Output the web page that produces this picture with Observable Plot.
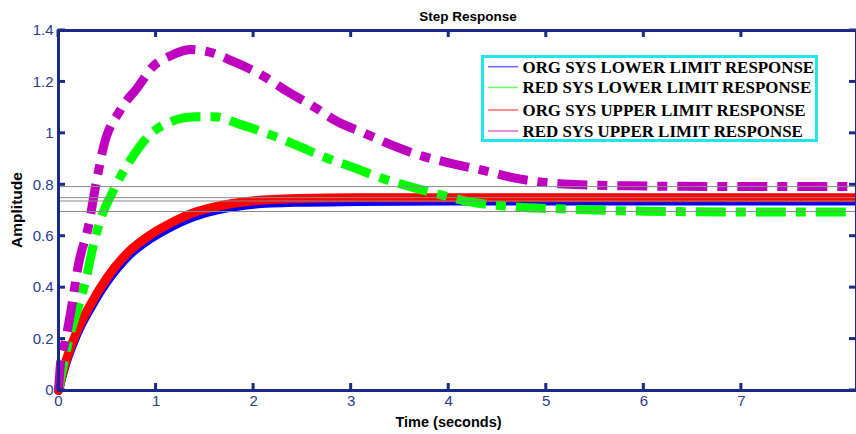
<!DOCTYPE html>
<html>
<head>
<meta charset="utf-8">
<script src="https://cdn.jsdelivr.net/npm/d3@7"></script>
<script src="https://cdn.jsdelivr.net/npm/@observablehq/plot@0.6"></script>
<style>
  html, body { margin: 0; padding: 0; background: #ffffff; }
  #wrap { position: relative; width: 856px; height: 434px; overflow: hidden; }
  #overlay { position: absolute; left: 0; top: 0; pointer-events: none; }
</style>
</head>
<body>
<div id="wrap"></div>
<script>
// ---- Data ----
const titleText = "Step Response";
const xLabelText = "Time (seconds)";
const yLabelText = "Amplitude";

const xTicks = [0, 1, 2, 3, 4, 5, 6, 7];
const xTickLabels = ["0", "1", "2", "3", "4", "5", "6", "7"];
const yTicks = [0, 0.2, 0.4, 0.6, 0.8, 1, 1.2, 1.4];
const yTickLabels = ["0", "0.2", "0.4", "0.6", "0.8", "1", "1.2", "1.4"];

const seriesNames = [
  "ORG SYS LOWER LIMIT RESPONSE",
  "RED SYS LOWER LIMIT RESPONSE",
  "ORG SYS UPPER LIMIT RESPONSE",
  "RED SYS UPPER LIMIT RESPONSE"
];

// ORG SYS LOWER LIMIT (blue)
const orgLowerT = [0, 0.07, 0.19, 0.33, 0.5, 0.72, 0.94, 1.12, 1.25, 1.39, 1.59, 1.8, 2.0, 2.45, 3.05, 4.0, 8.18];
const orgLowerV = [0, 0.098, 0.22, 0.322, 0.425, 0.525, 0.59, 0.63, 0.655, 0.677, 0.699, 0.714, 0.724, 0.732, 0.735, 0.737, 0.737];

// RED SYS LOWER LIMIT (green)
const redLowerT = [0, 0.04, 0.12, 0.2, 0.28, 0.36, 0.44, 0.54, 0.64, 0.77, 0.9, 1.0, 1.15, 1.28, 1.43, 1.59, 1.87, 2.17, 2.45, 2.74, 3.03, 3.3, 3.61, 3.92, 4.2, 4.67, 5.18, 6.04, 7.27, 8.18];
const redLowerV = [0, 0.08, 0.22, 0.32, 0.43, 0.57, 0.675, 0.76, 0.835, 0.915, 0.98, 1.015, 1.045, 1.06, 1.065, 1.065, 1.034, 0.995, 0.952, 0.905, 0.866, 0.827, 0.792, 0.761, 0.735, 0.714, 0.706, 0.697, 0.694, 0.694];

// ORG SYS UPPER LIMIT (red)
const orgUpperT = [0, 0.07, 0.19, 0.33, 0.5, 0.72, 0.94, 1.12, 1.25, 1.39, 1.59, 1.8, 2.0, 2.45, 3.05, 8.18];
const orgUpperV = [0, 0.105, 0.23, 0.335, 0.44, 0.54, 0.605, 0.645, 0.67, 0.692, 0.713, 0.728, 0.738, 0.747, 0.75, 0.75];

// RED SYS UPPER LIMIT (purple)
const redUpperT = [0, 0.021, 0.072, 0.123, 0.21, 0.308, 0.379, 0.462, 0.636, 0.81, 0.974, 1.149, 1.251, 1.354, 1.528, 1.795, 2.072, 2.349, 2.615, 2.862, 3.128, 3.405, 3.682, 4.0, 4.328, 4.667, 5.179, 5.836, 7.067, 8.18];
const redUpperV = [0, 0.105, 0.195, 0.3, 0.5, 0.64, 0.792, 0.948, 1.092, 1.178, 1.262, 1.302, 1.318, 1.326, 1.318, 1.279, 1.229, 1.162, 1.104, 1.045, 1.002, 0.956, 0.917, 0.885, 0.858, 0.827, 0.803, 0.796, 0.793, 0.793];

// Steady-state reference lines (thin grey)
const steadyValues = [0.793, 0.750, 0.737, 0.696];

// ---- Styles ----
const colors = ["#0000ff", "#00ff00", "#ff0000", "#bf00bf"];
const navy = "#1b2a84";
const tickText = "#2b3a8f";
const dashDot = "30,10,10,10";

const W = 856, H = 434, ML = 58, MR = 0, MT = 30, MB = 44;
const tickLen = 7;

const rows = (T, V) => T.map((t, i) => ({t, v: V[i]}));
const blue = rows(orgLowerT, orgLowerV);
const green = rows(redLowerT, redLowerV);
const red = rows(orgUpperT, orgUpperV);
const purple = rows(redUpperT, redUpperV);

const chart = Plot.plot({
  width: W,
  height: H,
  marginLeft: ML,
  marginRight: MR,
  marginTop: MT,
  marginBottom: MB,
  x: {domain: [0, 8.18], label: null},
  y: {domain: [0, 1.4], label: null},
  style: {fontFamily: "'Liberation Sans', Arial, sans-serif", fontSize: "15px", background: "#ffffff"},
  marks: [
    Plot.line(blue, {x: "t", y: "v", stroke: colors[0], strokeWidth: 9, curve: "monotone-x"}),
    Plot.line(red, {x: "t", y: "v", stroke: colors[2], strokeWidth: 9, curve: "monotone-x"}),
    Plot.line(green, {x: "t", y: "v", stroke: colors[1], strokeWidth: 9, curve: "monotone-x", strokeDasharray: dashDot, strokeLinecap: "butt"}),
    Plot.line(purple, {x: "t", y: "v", stroke: colors[3], strokeWidth: 9, curve: "monotone-x", strokeDasharray: dashDot, strokeLinecap: "butt"}),
    Plot.ruleY(steadyValues, {stroke: "#8a8a8a", strokeWidth: 1}),
    Plot.frame({stroke: navy, strokeWidth: 3}),
    Plot.axisX(xTicks, {anchor: "bottom", tickSize: 0, tickPadding: 5, fill: tickText, label: null, fontSize: 15,
      tickFormat: d => xTickLabels[xTicks.indexOf(d)]}),
    Plot.axisY(yTicks, {anchor: "left", tickSize: 0, tickPadding: 5, fill: tickText, label: null, fontSize: 15,
      tickFormat: d => yTickLabels[yTicks.indexOf(d)]})
  ]
});

const wrap = document.getElementById("wrap");
wrap.appendChild(chart);

// ---- Overlay: inward ticks (positions from Plot's own scales), titles, legend ----
const sx = chart.scale("x"), sy = chart.scale("y");
const ov = d3.select(wrap).append("svg")
  .attr("id", "overlay")
  .attr("width", W).attr("height", H);

const tg = ov.append("g").attr("stroke", navy).attr("stroke-width", 3);
const yBottom = H - MB, yTop = MT, xLeft = ML, xRight = W - MR;
xTicks.forEach(t => {
  const px = sx.apply(t);
  tg.append("line").attr("x1", px).attr("x2", px).attr("y1", yBottom - tickLen).attr("y2", yBottom);
  tg.append("line").attr("x1", px).attr("x2", px).attr("y1", yTop).attr("y2", yTop + tickLen);
});
yTicks.forEach(v => {
  const py = sy.apply(v);
  tg.append("line").attr("y1", py).attr("y2", py).attr("x1", xLeft).attr("x2", xLeft + tickLen);
  tg.append("line").attr("y1", py).attr("y2", py).attr("x1", xRight - tickLen).attr("x2", xRight);
});

ov.append("text")
  .attr("x", 468).attr("y", 20.5)
  .attr("text-anchor", "middle")
  .style("font-family", "'Liberation Sans', Arial, sans-serif")
  .style("font-weight", "bold").style("font-size", "13.5px")
  .attr("fill", "#000")
  .text(titleText);

ov.append("text")
  .attr("x", 448.5).attr("y", 426.5)
  .attr("text-anchor", "middle")
  .style("font-family", "'Liberation Sans', Arial, sans-serif")
  .style("font-weight", "bold").style("font-size", "14.5px")
  .attr("fill", "#000")
  .text(xLabelText);

ov.append("text")
  .attr("transform", "translate(21.5,210) rotate(-90)")
  .attr("text-anchor", "middle")
  .style("font-family", "'Liberation Sans', Arial, sans-serif")
  .style("font-weight", "bold").style("font-size", "15.5px")
  .attr("fill", "#000")
  .text(yLabelText);

// Legend box
const lg = ov.append("g").attr("transform", "translate(481,55)");
lg.append("rect")
  .attr("x", 1.5).attr("y", 1.5)
  .attr("width", 334).attr("height", 84)
  .attr("fill", "#ffffff")
  .attr("stroke", "#1fe6ee").attr("stroke-width", 3);

const rowCenters = [11.7, 32.5, 55, 76];
seriesNames.forEach((name, i) => {
  lg.append("line")
    .attr("x1", 7).attr("x2", 37)
    .attr("y1", rowCenters[i]).attr("y2", rowCenters[i])
    .attr("stroke", colors[i]).attr("stroke-width", 1.5).attr("stroke-opacity", 0.6);
  lg.append("text")
    .attr("x", 41.5).attr("y", rowCenters[i] + 5.8)
    .style("font-family", "'Liberation Serif', 'Times New Roman', serif")
    .style("font-weight", "bold").style("font-size", "16.9px")
    .attr("fill", "#000")
    .text(name);
});
</script>
</body>
</html>
